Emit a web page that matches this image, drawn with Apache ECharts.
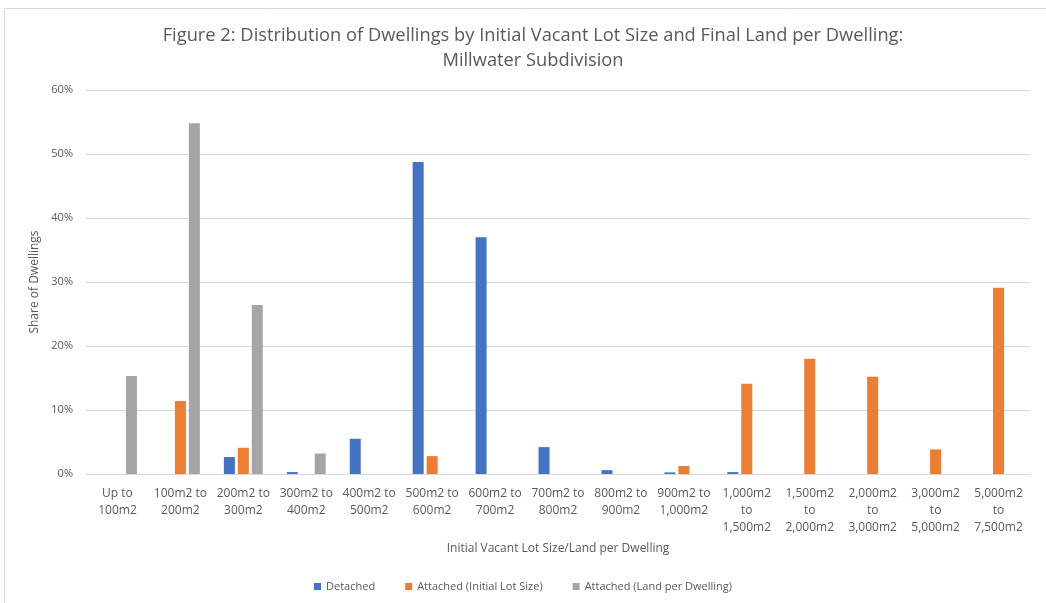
<!DOCTYPE html>
<html>
<head>
<meta charset="utf-8">
<script src="https://cdn.jsdelivr.net/npm/echarts@6/dist/echarts.min.js"></script>
<style>
  html, body { margin: 0; padding: 0; background: #fff; }
  #chart { width: 1046px; height: 603px; }
</style>
</head>
<body>
<div id="chart"></div>
<script>
// Lot size / land-per-dwelling bands
const categories = [
  'Up to\n100m2', '100m2 to\n200m2', '200m2 to\n300m2', '300m2 to\n400m2',
  '400m2 to\n500m2', '500m2 to\n600m2', '600m2 to\n700m2', '700m2 to\n800m2',
  '800m2 to\n900m2', '900m2 to\n1,000m2', '1,000m2\nto\n1,500m2',
  '1,500m2\nto\n2,000m2', '2,000m2\nto\n3,000m2', '3,000m2\nto\n5,000m2',
  '5,000m2\nto\n7,500m2'
];

// Share of dwellings (%)
const detached         = [0, 0, 2.65, 0.3, 5.5, 48.75, 37.0, 4.2, 0.6, 0.25, 0.3, 0, 0, 0, 0];
const attachedInitial  = [0, 11.4, 4.1, 0, 0, 2.8, 0, 0, 0, 1.25, 14.1, 18.0, 15.2, 3.85, 29.1];
const attachedPerDwell = [15.3, 54.8, 26.4, 3.2, 0, 0, 0, 0, 0, 0, 0, 0, 0, 0, 0];

const yTicks = { min: 0, max: 60, interval: 10 };

const font = 'Open Sans, Noto Sans, sans-serif';
const textGrey = '#595959';

const chart = echarts.init(document.getElementById('chart'), null, { renderer: 'canvas' });

const barStyle = (name, data, color) => ({
  name,
  type: 'bar',
  data,
  barWidth: 11,
  barGap: '27%',
  barCategoryGap: '38%',
  itemStyle: { color },
  emphasis: { disabled: true }
});

chart.setOption({
  animation: false,
  backgroundColor: '#fff',
  color: ['#4472C4', '#ED7D31', '#A5A5A5'],
  title: {
    text: 'Figure 2: Distribution of Dwellings by Initial Vacant Lot Size and Final Land per Dwelling:\nMillwater Subdivision',
    left: 528,
    top: 18,
    textAlign: 'center',
    textStyle: {
      fontFamily: font,
      fontSize: 18.3,
      fontWeight: 'normal',
      color: textGrey,
      lineHeight: 25
    }
  },
  legend: {
    bottom: 6,
    left: 'center',
    itemWidth: 7,
    itemHeight: 7,
    itemGap: 30,
    icon: 'rect',
    textStyle: { fontFamily: font, fontSize: 11, color: textGrey },
    data: ['Detached', 'Attached (Initial Lot Size)', 'Attached (Land per Dwelling)']
  },
  grid: { left: 86, right: 16, top: 90, bottom: 129 },
  xAxis: {
    type: 'category',
    data: categories,
    name: 'Initial Vacant Lot Size/Land per Dwelling',
    nameLocation: 'middle',
    nameGap: 69,
    nameTextStyle: { fontFamily: font, fontSize: 12, color: textGrey },
    axisLine: { lineStyle: { color: '#D9D9D9', width: 1 } },
    axisTick: { show: false },
    axisLabel: {
      interval: 0,
      margin: 11,
      fontFamily: font,
      fontSize: 12,
      color: textGrey,
      lineHeight: 17
    }
  },
  yAxis: {
    type: 'value',
    min: yTicks.min,
    max: yTicks.max,
    interval: yTicks.interval,
    name: 'Share of Dwellings',
    nameLocation: 'middle',
    nameGap: 44,
    nameRotate: 90,
    nameTextStyle: { fontFamily: font, fontSize: 12, color: textGrey },
    axisLine: { show: false },
    axisTick: { show: false },
    axisLabel: {
      margin: 13,
      fontFamily: font,
      fontSize: 11,
      color: textGrey,
      formatter: v => v + '%'
    },
    splitLine: { lineStyle: { color: '#D9D9D9', width: 1 } }
  },
  graphic: [{
    type: 'rect',
    shape: { x: 4.5, y: 8.5, width: 1100, height: 700 },
    style: { fill: 'none', stroke: '#D9D9D9', lineWidth: 1 },
    silent: true,
    z: -1
  }],
  series: [
    barStyle('Detached', detached, '#4472C4'),
    barStyle('Attached (Initial Lot Size)', attachedInitial, '#ED7D31'),
    barStyle('Attached (Land per Dwelling)', attachedPerDwell, '#A5A5A5')
  ]
});
</script>
</body>
</html>
